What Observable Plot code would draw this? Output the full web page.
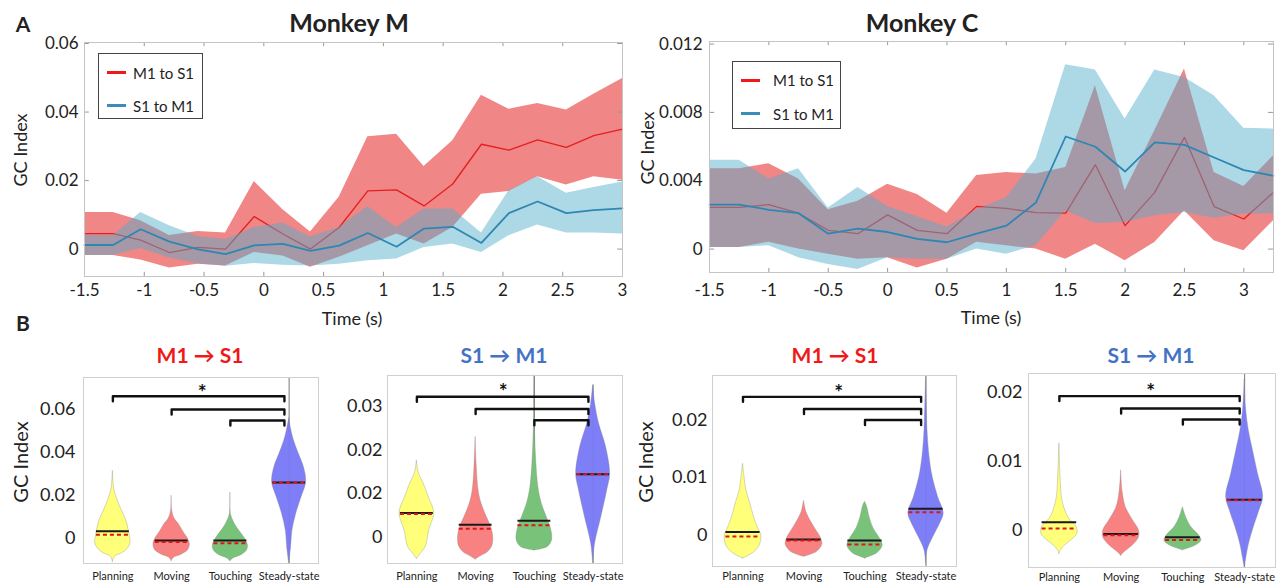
<!DOCTYPE html>
<html><head><meta charset="utf-8">
<script src="https://cdn.jsdelivr.net/npm/d3@7"></script>
<script src="https://cdn.jsdelivr.net/npm/@observablehq/plot@0.6"></script>
<style>
body{margin:0;background:#fff;font-family:Lato,"Open Sans",sans-serif;color:#222;}
#fig{position:relative;width:1283px;height:587px;overflow:hidden;background:#fff;}
.abs{position:absolute;white-space:nowrap;line-height:1;}
</style></head><body><div id="fig"></div>
<script>
// ---------- Panel A data ----------
const timeM = [-1.5,-1.26,-1.03,-0.79,-0.55,-0.32,-0.08,0.16,0.39,0.63,0.87,1.11,1.34,1.58,1.82,2.05,2.29,2.53,2.76,3.0];
const m1s1M   = [0.0045,0.0045,0.0026,-0.001,0.0005,0,0.0095,0.0044,0,0.0063,0.017,0.0173,0.0126,0.019,0.0306,0.0289,0.0319,0.0297,0.0331,0.035];
const m1s1HiM = [0.0107,0.0107,0.0083,0.004,0.0051,0.0047,0.0197,0.0115,0.005,0.0151,0.0328,0.0335,0.0241,0.0316,0.0449,0.0408,0.0425,0.0406,0.0452,0.0498];
const m1s1LoM = [-0.0019,-0.0019,-0.0032,-0.0055,-0.0044,-0.0049,-0.001,-0.002,-0.0053,-0.0024,0.001,0.0044,0.0015,0.0063,0.016,0.0168,0.0211,0.0187,0.0211,0.0201];
const s1m1M   = [0.0012,0.0012,0.0058,0.0022,-0.0001,-0.0015,0.0011,0.0015,-0.0005,0.001,0.0047,0.0007,0.006,0.0065,0.0018,0.0105,0.0139,0.0105,0.0114,0.0119];
const s1m1HiM = [0.004,0.004,0.0107,0.0068,0.0037,0.0028,0.0063,0.0076,0.0035,0.0063,0.0124,0.0063,0.0117,0.0117,0.0047,0.017,0.0211,0.0163,0.018,0.0196];
const s1m1LoM = [-0.0019,-0.0019,0.0002,-0.0026,-0.0043,-0.005,-0.0042,-0.0047,-0.0049,-0.0044,-0.0034,-0.0029,0.0005,0.0015,-0.001,0.0039,0.007,0.0047,0.0047,0.0044];

const timeC = [-1.5,-1.25,-1.0,-0.75,-0.5,-0.25,0,0.25,0.5,0.75,1.0,1.25,1.5,1.75,2.0,2.25,2.5,2.75,3.0,3.25];
const m1s1C   = [0.00244,0.00244,0.0026,0.0021,0.0011,0.0009,0.002,0.0011,0.0009,0.0025,0.00238,0.00214,0.0021,0.00494,0.00137,0.00332,0.00654,0.00249,0.00176,0.00332];
const m1s1HiC = [0.0047,0.0047,0.005,0.0041,0.0023,0.0028,0.0038,0.0032,0.0021,0.0043,0.00448,0.00439,0.00478,0.00956,0.00341,0.00693,0.01054,0.00448,0.00367,0.00546];
const m1s1LoC = [0.0001,0.0001,0.0004,0,-0.0003,-0.0006,-0.0005,-0.0011,-0.0006,0.0004,0.00019,0,-0.00059,0.00029,-0.00068,0.00039,0.00224,0.00049,-0.0001,0.00166];
const s1m1C   = [0.0026,0.0026,0.0023,0.0021,0.0009,0.0012,0.001,0.0006,0.0004,0.0009,0.00137,0.00273,0.00659,0.00599,0.00454,0.00624,0.0061,0.00536,0.00462,0.00429];
const s1m1HiC = [0.0052,0.0052,0.0041,0.0047,0.0024,0.0036,0.0025,0.0019,0.0013,0.0023,0.003,0.00527,0.01079,0.01048,0.00761,0.01048,0.01005,0.00897,0.00708,0.00702];
const s1m1LoC = [0.0001,0.0001,0.0002,-0.0005,-0.0009,-0.0012,-0.0005,-0.0006,-0.0006,0,-0.0003,0.0002,0.00224,0.0015,0.00156,0.00195,0.00214,0.00181,0.00205,0.00205];

const xTickVals = [-1.5,-1,-0.5,0,0.5,1,1.5,2,2.5,3];
const xTickLabels = ["-1.5","-1","-0.5","0","0.5","1","1.5","2","2.5","3"];
const yTickValsM = [0,0.02,0.04,0.06];
const yTickLabelsM = ["0","0.02","0.04","0.06"];
const yTickValsC = [0,0.004,0.008,0.012];
const yTickLabelsC = ["0","0.004","0.008","0.012"];
const seriesNames = ["M1 to S1","S1 to M1"];

// ---------- Panel B data ----------
const categories = ["Planning","Moving","Touching","Steady-state"];
const violinColors = ["#FFFF72","#F87B7B","#72BF72","#7777F7"];
// profiles: [GC value, half width (fraction of category slot)]
const violinsM_M1S1 = [
 [[-0.0113,0],[-0.0098,0.015],[-0.0085,0.05],[-0.0072,0.16],[-0.0052,0.25],[-0.0025,0.3],[0.0005,0.29],[0.0035,0.27],[0.008,0.23],[0.0142,0.13],[0.022,0.03],[0.0313,0]],
 [[-0.0109,0],[-0.0093,0.04],[-0.008,0.16],[-0.0058,0.28],[-0.003,0.31],[0,0.27],[0.0019,0.22],[0.0065,0.12],[0.009,0.05],[0.0127,0.01],[0.0197,0]],
 [[-0.0109,0],[-0.0095,0.06],[-0.0082,0.18],[-0.006,0.28],[-0.0036,0.3],[0,0.24],[0.0049,0.11],[0.008,0.05],[0.0112,0.01],[0.0212,0]],
 [[-0.012,0],[-0.0044,0.034],[0.0034,0.057],[0.0112,0.12],[0.0189,0.21],[0.0259,0.29],[0.0328,0.255],[0.039,0.17],[0.0453,0.085],[0.0514,0.03],[0.056,0]]
];
const violinsM_S1M1 = [
 [[-0.005,0],[-0.0038,0.07],[-0.0023,0.15],[0.0015,0.21],[0.0055,0.295],[0.0092,0.2],[0.0123,0.114],[0.0146,0.034],[0.0176,0]],
 [[-0.0052,0],[-0.0045,0.08],[-0.0036,0.2],[-0.0022,0.28],[-0.0008,0.3],[0.001,0.29],[0.0028,0.25],[0.0046,0.19],[0.0077,0.1],[0.0107,0.05],[0.0169,0.017],[0.023,0]],
 [[-0.0031,0],[-0.0028,0.12],[-0.0023,0.23],[-0.0008,0.3],[0.0015,0.29],[0.0046,0.21],[0.0077,0.125],[0.0115,0.068],[0.0169,0.034],[0.025,0.01],[0.0372,0]],
 [[-0.0061,0],[-0.0015,0.034],[0.0046,0.14],[0.0107,0.24],[0.0144,0.29],[0.0207,0.22],[0.0261,0.1],[0.0307,0.034],[0.0349,0]]
];
const violinsC_M1S1 = [
 [[-0.004,0],[-0.0035,0.1],[-0.0028,0.2],[-0.0016,0.28],[0,0.3],[0.0012,0.25],[0.0032,0.18],[0.0055,0.12],[0.0078,0.055],[0.0101,0.025],[0.0124,0]],
 [[-0.0037,0],[-0.0034,0.1],[-0.0028,0.22],[-0.0016,0.3],[-0.0003,0.27],[0.0009,0.2],[0.0023,0.12],[0.004,0.04],[0.006,0]],
 [[-0.004,0],[-0.0037,0.08],[-0.0031,0.2],[-0.0018,0.29],[-0.0003,0.23],[0.0012,0.14],[0.0032,0.074],[0.005,0.033],[0.0058,0]],
 [[-0.0049,0],[-0.0026,0.025],[-0.0003,0.12],[0.002,0.23],[0.0038,0.29],[0.0066,0.2],[0.0101,0.11],[0.0135,0.06],[0.0182,0.025],[0.0277,0]]
];
const violinsC_S1M1 = [
 [[-0.0035,0],[-0.0029,0.03],[-0.0023,0.09],[-0.0015,0.2],[-0.0006,0.29],[0.0004,0.28],[0.0016,0.16],[0.0028,0.095],[0.0048,0.04],[0.0072,0.022],[0.0126,0]],
 [[-0.0038,0],[-0.0033,0.05],[-0.0028,0.12],[-0.002,0.22],[-0.0011,0.29],[-0.0001,0.29],[0.0014,0.19],[0.0033,0.075],[0.0055,0.025],[0.0087,0]],
 [[-0.003,0],[-0.0027,0.1],[-0.0023,0.21],[-0.0016,0.3],[-0.0008,0.26],[0.0004,0.135],[0.0018,0.054],[0.0033,0]],
 [[-0.0055,0],[-0.004,0.03],[-0.002,0.073],[0.0004,0.15],[0.0028,0.24],[0.0048,0.3],[0.0082,0.216],[0.0116,0.135],[0.0145,0.068],[0.018,0.02],[0.0219,0]]
];
const mediansB = [[0.0031,-0.0013,-0.0013,0.0259],[0.0055,0.0028,0.0037,0.0144],[0.0006,-0.0007,-0.0009,0.0046],[0.0011,-0.0006,-0.0011,0.0044]];
const meansB   = [[0.0015,-0.002,-0.0025,0.0259],[0.0053,0.0019,0.0027,0.0144],[-0.0002,-0.0009,-0.0016,0.004],[0.0002,-0.0008,-0.0015,0.0043]];
const bracketLevels = [[0.0662,0.060,0.0549],[0.0322,0.0294,0.0268],[0.024,0.0219,0.02],[0.0195,0.0177,0.0161]];
const starPos = [[2.52,0.0693],[2.47,0.0341],[2.57,0.0254],[2.48,0.0206]];
const tailsB = [
 [{cat:4,lo:-0.012,hi:0.075}],
 [{cat:3,lo:0.017,hi:0.0371},{cat:4,lo:-0.0061,hi:0.0349}],
 [{cat:4,lo:-0.0054,hi:0.0277}],
 [{cat:4,lo:-0.0055,hi:0.0228}]
];
const yTickValsB = [[0,0.02,0.04,0.06],[0,0.01,0.02,0.03],[0,0.01,0.02],[0,0.01,0.02]];
const yTickLabelsB = [["0","0.02","0.04","0.06"],["0","0.02","0.02","0.03"],["0","0.01","0.02"],["0","0.01","0.02"]];
const titlesB = ["M1 \u2192 S1","S1 \u2192 M1","M1 \u2192 S1","S1 \u2192 M1"];

// ---------- helpers ----------
const fig = document.getElementById("fig");
const FONT = "Lato, 'Open Sans', sans-serif";
function txt(s, cx, cy, css, rot){
  const d = document.createElement("div");
  d.className = "abs"; d.textContent = s;
  d.style.left = cx+"px"; d.style.top = cy+"px";
  d.style.transform = "translate(-50%,-50%)" + (rot ? " rotate(-90deg)" : "");
  Object.assign(d.style, css||{});
  fig.appendChild(d);
}
function place(svg, left, top){
  svg.style.position = "absolute"; svg.style.left = left+"px"; svg.style.top = top+"px";
  fig.appendChild(svg);
}

function lineChart(o){
  const rows = o.t.map((t,i)=>({t, a:o.a[i], aLo:o.aLo[i], aHi:o.aHi[i], b:o.b[i], bLo:o.bLo[i], bHi:o.bHi[i]}));
  const [y0,y1] = o.yDomain, [x0,x1] = o.xDomain;
  const ty = (y1-y0)*0.018, tx = (x1-x0)*0.009;
  const xl = new Map(o.xTicks.map((v,i)=>[v,o.xLabels[i]]));
  const yl = new Map(o.yTicks.map((v,i)=>[v,o.yLabels[i]]));
  return Plot.plot({
    width:o.width, height:o.height,
    marginLeft:o.mL, marginRight:o.mR, marginTop:o.mT, marginBottom:o.mB,
    x:{domain:o.xDomain, label:null}, y:{domain:o.yDomain, label:null},
    style:{fontFamily:FONT, color:"#222", background:"transparent", overflow:"visible"},
    marks:[
      Plot.areaY(rows,{x:d=>d.t, y1:d=>d.aLo, y2:d=>d.aHi, fill:"#F18686"}),
      Plot.line(rows,{x:d=>d.t, y:d=>d.a, stroke:"#E41F1F", strokeWidth:1.3}),
      Plot.areaY(rows,{x:d=>d.t, y1:d=>d.bLo, y2:d=>d.bHi, fill:"#54AECB", fillOpacity:0.48}),
      Plot.line(rows,{x:d=>d.t, y:d=>d.b, stroke:"#2E86B3", strokeWidth:1.8}),
      Plot.ruleX(o.xTicks,{x:d=>d, y1:y0, y2:y0+ty, stroke:"#999"}),
      Plot.ruleX(o.xTicks,{x:d=>d, y1:y1-ty, y2:y1, stroke:"#999"}),
      Plot.ruleY(o.yTicks,{y:d=>d, x1:x0, x2:x0+tx, stroke:"#999"}),
      Plot.ruleY(o.yTicks,{y:d=>d, x1:x1-tx, x2:x1, stroke:"#999"}),
      Plot.frame({stroke:"#c4c4c4"}),
      Plot.axisX(o.xTicks,{tickSize:0, tickPadding:o.xPad, tickFormat:d=>xl.get(d), fontSize:17, label:null}),
      Plot.axisY(o.yTicks,{tickSize:0, tickPadding:o.yPad, tickFormat:d=>yl.get(d), fontSize:17, label:null})
    ]
  });
}

function violinChart(k, o){
  const profiles = o.profiles;
  const [y0,y1] = o.yDomain;
  const drop = (y1-y0)*5/(o.height-o.mT-o.mB);
  const marks = [];
  marks.push(Plot.ruleX(tailsB[k],{x:d=>d.cat, y1:d=>d.lo, y2:d=>d.hi, stroke:"#777", strokeWidth:1}));
  profiles.forEach((p,i)=>{
    const c = i+1;
    marks.push(Plot.areaX(p,{y:d=>d[0], x1:d=>c-d[1], x2:d=>c+d[1], fill:violinColors[i], fillOpacity:0.95,
      stroke:"#8a8a8a", strokeOpacity:0.5, strokeWidth:0.7, curve:"catmull-rom"}));
  });
  const med = mediansB[k].map((v,i)=>({c:i+1,v}));
  const mean = meansB[k].map((v,i)=>({c:i+1,v}));
  marks.push(Plot.ruleY(med,{y:d=>d.v, x1:d=>d.c-0.28, x2:d=>d.c+0.28, stroke:"#1a1a1a", strokeWidth:2}));
  marks.push(Plot.ruleY(mean,{y:d=>d.v, x1:d=>d.c-0.28, x2:d=>d.c+0.28, stroke:"#E01515", strokeWidth:2, strokeDasharray:"4,3"}));
  const pts = [];
  bracketLevels[k].forEach((lvl,j)=>{
    const from = j+1, to = 3.92;
    pts.push({id:j,x:from,y:lvl-drop},{id:j,x:from,y:lvl},{id:j,x:to,y:lvl},{id:j,x:to,y:lvl-drop});
  });
  marks.push(Plot.line(pts,{x:d=>d.x, y:d=>d.y, z:d=>d.id, stroke:"#111", strokeWidth:2.4}));
  marks.push(Plot.text([starPos[k]],{x:d=>d[0], y:d=>d[1], text:()=>"*", fontSize:21, fontWeight:"bold", fill:"#111", dy:4}));
  marks.push(Plot.frame({stroke:"#cfcfcf"}));
  const yl = new Map(yTickValsB[k].map((v,i)=>[v,yTickLabelsB[k][i]]));
  marks.push(Plot.axisY(yTickValsB[k],{tickSize:0, tickPadding:o.yPad, tickFormat:d=>yl.get(d), fontSize:18, label:null}));
  marks.push(Plot.axisX([1,2,3,4],{tickSize:0, tickPadding:o.xPad, tickFormat:d=>categories[d-1], fontSize:11, label:null}));
  return Plot.plot({
    width:o.width, height:o.height,
    marginLeft:o.mL, marginRight:o.mR, marginTop:o.mT, marginBottom:o.mB,
    x:{domain:[0.5,4.5], label:null}, y:{domain:o.yDomain, label:null},
    style:{fontFamily:FONT, color:"#222", background:"transparent", overflow:"visible"},
    marks
  });
}

// ---------- Panel A ----------
place(lineChart({t:timeM, a:m1s1M, aLo:m1s1LoM, aHi:m1s1HiM, b:s1m1M, bLo:s1m1LoM, bHi:s1m1HiM,
  xDomain:[-1.5,3.0], yDomain:[-0.008,0.0603], xTicks:xTickVals, xLabels:xTickLabels,
  yTicks:yTickValsM, yLabels:yTickLabelsM, width:640, height:330, mL:84, mR:18, mT:42, mB:54, xPad:7, yPad:6}), 0, 0);
place(lineChart({t:timeC, a:m1s1C, aLo:m1s1LoC, aHi:m1s1HiC, b:s1m1C, bLo:s1m1LoC, bHi:s1m1HiC,
  xDomain:[-1.5,3.25], yDomain:[-0.00137,0.01215], xTicks:xTickVals, xLabels:xTickLabels,
  yTicks:yTickValsC, yLabels:yTickLabelsC, width:643, height:330, mL:69, mR:10, mT:41, mB:58, xPad:11, yPad:7}), 640, 0);

// ---------- Panel B ----------
const bLayout = [
  {left:0,   width:330, mL:83, mR:12, mT:47, mB:24, yDomain:[-0.012,0.075],   yPad:8, xPad:9, profiles:violinsM_M1S1},
  {left:330, width:310, mL:57, mR:18, mT:45, mB:24, yDomain:[-0.0061,0.0371], yPad:5, xPad:9, profiles:violinsM_S1M1},
  {left:640, width:320, mL:72, mR:4,  mT:45, mB:21, yDomain:[-0.0054,0.0277], yPad:5, xPad:6, profiles:violinsC_M1S1},
  {left:960, width:323, mL:68, mR:8,  mT:43, mB:20, yDomain:[-0.0055,0.0228], yPad:6, xPad:6, profiles:violinsC_S1M1}
];
bLayout.forEach((o,k)=>{ o.height = 257; place(violinChart(k,o), o.left, 330); });

// ---------- texts ----------
txt("A", 23, 23, {fontSize:"21px", fontWeight:"700"});
txt("B", 23, 322, {fontSize:"21px", fontWeight:"700"});
txt("Monkey M", 349, 22, {fontSize:"25px", fontWeight:"700"});
txt("Monkey C", 922, 22, {fontSize:"25px", fontWeight:"700"});
txt("GC Index", 20, 150, {fontSize:"18px"}, true);
txt("GC Index", 647, 148, {fontSize:"18px"}, true);
txt("Time (s)", 352, 318, {fontSize:"18px"});
txt("Time (s)", 991, 317, {fontSize:"18px"});
txt("GC Index", 20, 462, {fontSize:"20px"}, true);
txt("GC Index", 645, 462, {fontSize:"20px"}, true);
const titleX = [200, 504, 835, 1151];
titlesB.forEach((t,k)=> txt(t, titleX[k], 354, {fontSize:"21px", fontWeight:"700", color: k%2===0 ? "#F01818" : "#4472C4"}));

// ---------- legends ----------
function legend(left, top, w, h, rowsY, lineX, textX){
  const box = document.createElement("div");
  box.className = "abs";
  Object.assign(box.style,{left:left+"px", top:top+"px", width:w+"px", height:h+"px", border:"1.3px solid #444", background:"#fff", boxSizing:"border-box"});
  fig.appendChild(box);
  const cols = ["#F01818","#3A8DB8"];
  seriesNames.forEach((n,i)=>{
    const l = document.createElement("div");
    l.className = "abs";
    Object.assign(l.style,{left:lineX[0]+"px", top:(rowsY[i]-1.5)+"px", width:(lineX[1]-lineX[0])+"px", height:"3px", background:cols[i]});
    fig.appendChild(l);
    const t = document.createElement("div");
    t.className = "abs"; t.textContent = n;
    Object.assign(t.style,{left:textX+"px", top:rowsY[i]+"px", transform:"translateY(-50%)", fontSize:"15px"});
    fig.appendChild(t);
  });
}
legend(98, 53, 105, 66, [72.5,105.5], [107,126], 133);
legend(732, 61, 109, 68, [80,113.5], [741,760], 773);
</script></body></html>
